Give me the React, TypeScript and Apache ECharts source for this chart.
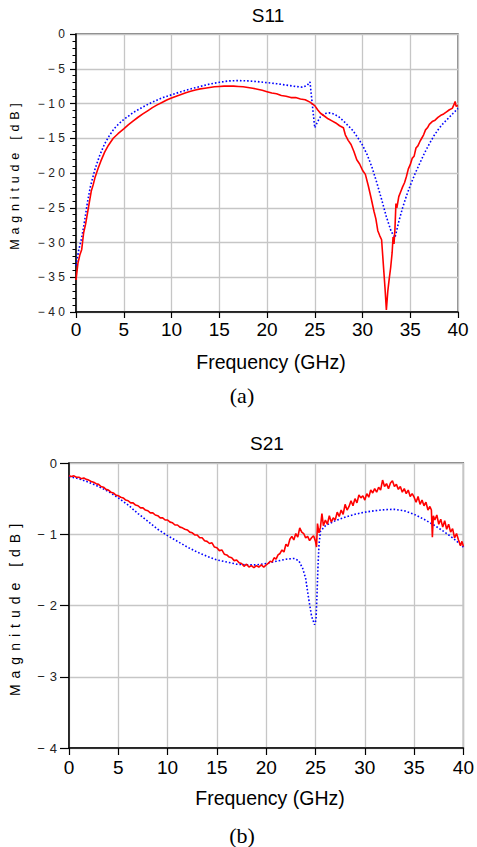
import React, { useEffect, useRef } from 'react';
import * as echarts from 'echarts';

// S11 measured (GHz, dB)
const s11Measured: [number, number][] = [
  [0, -35.4], [0.2, -33.0], [0.4, -31.8], [0.6, -31.0], [0.8, -28.6], [1.0, -27.4], [1.2, -25.8],
  [1.4, -24.2], [1.6, -22.6], [1.8, -21.7], [2.0, -20.6], [2.3, -19.4], [2.6, -18.3], [3.0, -17.0],
  [3.4, -16.0], [3.9, -15.0], [4.4, -14.35], [5.0, -13.65], [5.5, -13.05], [6.0, -12.5], [6.5, -11.98],
  [7.0, -11.5], [7.5, -11.05], [8.0, -10.6], [8.5, -10.2], [9.0, -9.85], [9.5, -9.5], [10.0, -9.2],
  [10.5, -8.95], [11.0, -8.7], [11.5, -8.45], [12.0, -8.25], [12.5, -8.05], [13.0, -7.9], [13.5, -7.8],
  [14.0, -7.7], [14.5, -7.6], [15.0, -7.55], [15.5, -7.5], [16.0, -7.5], [16.5, -7.5], [17.0, -7.55],
  [17.5, -7.6], [18.0, -7.7], [18.5, -7.8], [19.0, -7.95], [19.5, -8.1], [20.0, -8.3], [20.5, -8.5],
  [21.0, -8.6], [21.5, -8.85], [22.0, -8.95], [22.5, -9.15], [23.0, -9.15], [23.5, -9.35], [24.0, -9.45],
  [24.5, -9.8], [25.0, -10.3], [25.3, -10.9], [25.6, -11.4], [26.0, -11.8], [26.4, -12.2], [26.8, -12.5],
  [27.2, -12.8], [27.6, -13.2], [28.0, -13.5], [28.2, -14.5], [28.5, -15.3], [28.8, -15.9], [29.1, -16.9],
  [29.4, -18.1], [29.7, -18.7], [30.0, -19.6], [30.3, -20.2], [30.6, -21.8], [30.9, -23.6], [31.2, -25.5],
  [31.4, -26.6], [31.6, -28.3], [31.8, -29.0], [32.0, -29.6], [32.2, -33.5], [32.35, -36.4], [32.5, -39.7],
  [32.65, -37.0], [32.8, -35.2], [32.95, -33.6], [33.1, -31.5], [33.2, -29.2], [33.3, -30.2], [33.4, -28.0],
  [33.5, -24.4], [33.6, -25.0], [33.8, -23.4], [34.0, -22.7], [34.2, -22.0], [34.4, -21.4], [34.6, -20.5],
  [34.8, -19.4], [35.0, -18.8], [35.2, -17.9], [35.4, -17.6], [35.6, -16.4], [35.8, -16.1], [36.0, -15.5],
  [36.2, -15.0], [36.4, -14.5], [36.6, -13.8], [36.8, -13.5], [37.0, -13.0], [37.3, -12.6], [37.6, -12.4],
  [37.9, -12.0], [38.2, -11.7], [38.5, -11.5], [38.8, -11.2], [39.1, -10.9], [39.4, -10.7], [39.6, -10.1],
  [39.7, -9.7], [39.8, -10.4], [40.0, -10.3],
];

// S11 simulated (GHz, dB)
const s11Simulated: [number, number][] = [
  [0, -33.3], [0.3, -31.0], [0.6, -29.3], [0.9, -26.9], [1.2, -24.2], [1.5, -22.0], [2.0, -19.4],
  [2.5, -17.4], [3.0, -15.8], [3.5, -14.6], [4.0, -13.6], [4.5, -12.9], [5.0, -12.3], [6.0, -11.3],
  [7.0, -10.5], [8.0, -9.8], [9.0, -9.2], [10.0, -8.75], [11.0, -8.3], [12.0, -7.9], [13.0, -7.55],
  [14.0, -7.2], [15.0, -6.95], [16.0, -6.75], [17.0, -6.7], [18.0, -6.75], [19.0, -6.85], [20.0, -7.0],
  [21.0, -7.15], [22.0, -7.35], [23.0, -7.55], [23.7, -7.65], [24.2, -7.4], [24.5, -6.9], [24.75, -10.2],
  [25.0, -13.5], [25.3, -12.6], [25.6, -11.9], [26.0, -11.45], [26.5, -11.35], [27.0, -11.5], [27.5, -11.9],
  [28.0, -12.5], [28.5, -13.2], [29.0, -13.9], [29.5, -14.9], [30.0, -16.0], [30.5, -17.4], [31.0, -19.2],
  [31.5, -21.4], [32.0, -23.8], [32.5, -26.3], [33.0, -28.4], [33.4, -29.3], [33.8, -27.0], [34.2, -25.0],
  [34.6, -23.3], [35.0, -21.8], [35.5, -20.1], [36.0, -18.6], [36.5, -17.1], [37.0, -15.8], [37.5, -14.6],
  [38.0, -13.6], [38.5, -12.8], [39.0, -12.1], [39.5, -11.4], [40.0, -10.7],
];

// S21 measured (GHz, dB)
const s21Measured: [number, number][] = [
  [0, -0.18], [0.25, -0.19], [0.5, -0.18], [0.75, -0.2], [1, -0.2], [1.25, -0.22], [1.5, -0.21], [1.75, -0.23],
  [2, -0.24], [2.25, -0.26], [2.5, -0.27], [2.75, -0.29], [3, -0.3], [3.25, -0.33], [3.5, -0.34], [3.75, -0.37],
  [4, -0.38], [4.25, -0.41], [4.5, -0.42], [4.75, -0.45], [5, -0.46], [5.25, -0.48], [5.5, -0.49], [5.75, -0.52],
  [6, -0.53], [6.25, -0.56], [6.5, -0.56], [6.75, -0.59], [7, -0.6], [7.25, -0.63], [7.5, -0.63], [7.75, -0.66],
  [8, -0.67], [8.25, -0.7], [8.5, -0.7], [8.75, -0.73], [9, -0.74], [9.25, -0.77], [9.5, -0.77], [9.75, -0.8],
  [10, -0.8], [10.25, -0.83], [10.5, -0.84], [10.75, -0.87], [11, -0.87], [11.25, -0.9], [11.5, -0.91],
  [11.75, -0.93], [12, -0.94], [12.25, -0.97], [12.5, -0.98], [12.75, -1.01], [13, -1.01], [13.25, -1.05],
  [13.5, -1.05], [13.75, -1.09], [14, -1.1], [14.25, -1.13], [14.5, -1.12], [14.75, -1.18], [15, -1.19],
  [15.25, -1.23], [15.5, -1.22], [15.75, -1.28], [16, -1.29], [16.25, -1.32], [16.5, -1.33], [16.75, -1.37],
  [17, -1.36], [17.25, -1.4], [17.5, -1.41], [17.75, -1.45], [18, -1.42], [18.25, -1.46], [18.5, -1.44],
  [18.75, -1.47], [19, -1.44], [19.25, -1.46], [19.5, -1.43], [19.75, -1.46], [20, -1.43],
  [20.2, -1.41], [20.4, -1.38], [20.6, -1.39], [20.8, -1.33], [21.0, -1.35], [21.2, -1.29], [21.4, -1.27],
  [21.6, -1.22], [21.8, -1.25], [22.0, -1.14], [22.2, -1.17], [22.4, -1.07], [22.6, -1.03], [22.8, -1.08],
  [23.0, -0.99], [23.2, -1.04], [23.4, -0.91], [23.6, -0.97], [23.8, -0.99], [24.0, -1.05], [24.2, -1.03],
  [24.4, -1.09], [24.6, -1.05], [24.8, -1.02], [25.0, -1.1], [25.1, -1.18], [25.2, -0.85], [25.35, -0.98],
  [25.5, -0.9], [25.65, -0.71], [25.8, -0.88], [26.0, -0.8], [26.2, -0.86], [26.4, -0.74], [26.6, -0.83],
  [26.8, -0.77], [27.0, -0.8], [27.2, -0.69], [27.4, -0.75], [27.6, -0.66], [27.8, -0.72], [28.0, -0.58],
  [28.2, -0.66], [28.4, -0.61], [28.6, -0.53], [28.8, -0.6], [29.0, -0.5], [29.2, -0.56], [29.4, -0.45],
  [29.6, -0.49], [29.8, -0.46], [30.0, -0.52], [30.2, -0.43], [30.4, -0.48], [30.6, -0.38], [30.8, -0.42],
  [31.0, -0.36], [31.2, -0.41], [31.4, -0.34], [31.6, -0.38], [31.8, -0.24], [32.0, -0.33], [32.2, -0.29],
  [32.4, -0.36], [32.6, -0.28], [32.8, -0.25], [33.0, -0.33], [33.2, -0.3], [33.4, -0.37], [33.6, -0.33],
  [33.8, -0.41], [34.0, -0.36], [34.2, -0.43], [34.4, -0.38], [34.6, -0.47], [34.8, -0.43], [35.0, -0.48],
  [35.2, -0.55], [35.4, -0.47], [35.6, -0.58], [35.8, -0.52], [36.0, -0.6], [36.2, -0.55], [36.4, -0.66],
  [36.6, -0.61], [36.75, -0.66], [36.85, -1.04], [36.95, -0.74], [37.1, -0.8], [37.3, -0.73], [37.5, -0.86],
  [37.7, -0.79], [37.9, -0.9], [38.1, -0.81], [38.3, -0.93], [38.5, -0.86], [38.7, -0.97], [38.9, -0.92],
  [39.1, -1.05], [39.3, -0.99], [39.5, -1.08], [39.7, -1.16], [39.85, -1.1], [40, -1.17],
];

// S21 simulated (GHz, dB)
const s21Simulated: [number, number][] = [
  [0, -0.19], [1, -0.22], [2, -0.27], [3, -0.33], [4, -0.4], [5, -0.49], [6, -0.59], [7, -0.71], [8, -0.82],
  [9, -0.93], [10, -1.02], [11, -1.1], [12, -1.18], [13, -1.25], [14, -1.31], [15, -1.36], [16, -1.39],
  [17, -1.42], [18, -1.43], [19, -1.43], [20, -1.41], [21, -1.38], [22, -1.35], [22.8, -1.34], [23.3, -1.37],
  [23.7, -1.48], [24.0, -1.62], [24.3, -1.9], [24.6, -2.15], [24.9, -2.27], [25.05, -2.2], [25.15, -1.85],
  [25.25, -1.45], [25.35, -1.15], [25.5, -0.96], [26, -0.88], [27, -0.81], [28, -0.76], [29, -0.72],
  [30, -0.69], [31, -0.67], [32, -0.655], [33, -0.65], [34, -0.67], [35, -0.72], [36, -0.79], [37, -0.87],
  [38, -0.96], [39, -1.06], [40, -1.18],
];

const FONT = 'Liberation Sans, Arial, sans-serif';
const SERIF = 'Liberation Serif, Times New Roman, serif';

export default function App() {
  const ref = useRef<HTMLDivElement>(null);

  useEffect(() => {
    const el = ref.current!;
    const chart = echarts.init(el, null, { renderer: 'svg' });
    const fmtY = (v: number) => (v < 0 ? '\u2212' + Math.abs(v) : String(v));

    const xAxis = (grid: number, fontSize: number, margin: number, tickLen: number) => ({
      type: 'value', gridIndex: grid, min: 0, max: 40, interval: 5,
      axisLine: { show: true, onZero: false, lineStyle: { color: '#000', width: 1.5 } },
      axisTick: { show: true, inside: false, length: tickLen, lineStyle: { color: '#000', width: 1.2 } },
      axisLabel: { color: '#000', fontSize, fontFamily: FONT, margin },
      splitLine: { show: true, lineStyle: { color: '#c6c6c6', width: 1.3 } },
    });

    const yAxis = (grid: number, min: number, interval: number, fontSize: number, margin: number, tickLen: number, minor: boolean) => ({
      type: 'value', gridIndex: grid, min, max: 0, interval,
      axisLine: { show: true, onZero: false, lineStyle: { color: '#000', width: 1.5 } },
      axisTick: { show: true, inside: false, length: tickLen, lineStyle: { color: '#000', width: 1.2 } },
      minorTick: { show: minor, splitNumber: 5, length: 3.5, lineStyle: { color: '#000', width: 1 } },
      axisLabel: { color: '#222', fontSize, fontFamily: FONT, margin, formatter: fmtY },
      splitLine: { show: true, lineStyle: { color: '#c6c6c6', width: 1.3 } },
    });

    const txt = (text: string, x: number, y: number, fontSize: number, family: string, rotation = 0) => ({
      type: 'text', x, y, rotation, silent: true,
      style: {
        text, fill: '#000', fontSize, fontFamily: family,
        align: 'center', verticalAlign: 'middle', textAlign: 'center', textVerticalAlign: 'middle',
      },
    });

    chart.setOption({
      animation: false,
      backgroundColor: '#fff',
      grid: [
        { left: 76, top: 34, width: 382, height: 278, show: true, borderColor: '#555', borderWidth: 1.3, backgroundColor: 'transparent' },
        { left: 69, top: 463, width: 395, height: 285, show: true, borderColor: '#555', borderWidth: 1.3, backgroundColor: 'transparent' },
      ],
      xAxis: [xAxis(0, 19, 8, 6), xAxis(1, 19, 10, 7)],
      yAxis: [yAxis(0, -40, 5, 12, 7.5, 6, true), yAxis(1, -4, 1, 13, 7, 9, false)],
      graphic: [
        txt('S11', 268, 15, 19, FONT),
        txt('Magnitude [dB]', 15, 174, 12.5, FONT, Math.PI / 2),
        txt('Frequency (GHz)', 271, 362, 19.5, FONT),
        txt('(a)', 242, 395, 22, SERIF),
        txt('S21', 267, 443, 19, FONT),
        txt('Magnitude [dB]', 15, 607, 14, FONT, Math.PI / 2),
        txt('Frequency (GHz)', 270, 798, 19.5, FONT),
        txt('(b)', 242, 835, 22, SERIF),
      ],
      series: [
        { name: 'S11 simulated', type: 'line', xAxisIndex: 0, yAxisIndex: 0, data: s11Simulated, showSymbol: false,
          lineStyle: { color: '#0000ff', width: 1.6, type: [1.6, 2] } },
        { name: 'S11 measured', type: 'line', xAxisIndex: 0, yAxisIndex: 0, data: s11Measured, showSymbol: false,
          lineStyle: { color: '#ff0000', width: 1.6 } },
        { name: 'S21 simulated', type: 'line', xAxisIndex: 1, yAxisIndex: 1, data: s21Simulated, showSymbol: false,
          lineStyle: { color: '#0000ff', width: 1.6, type: [1.6, 2] } },
        { name: 'S21 measured', type: 'line', xAxisIndex: 1, yAxisIndex: 1, data: s21Measured, showSymbol: false,
          lineStyle: { color: '#ff0000', width: 1.6 } },
      ],
    });

    const applySpacing = () => {
      const rootRect = el.getBoundingClientRect();
      el.querySelectorAll('text').forEach((t) => {
        const s = (t.textContent || '').trim();
        const r = t.getBoundingClientRect();
        const top = r.top - rootRect.top;
        const isTop = top < 423;
        if (s === 'Magnitude [dB]') {
          (t as SVGTextElement).style.letterSpacing = isTop ? '4.8px' : '6px';
        } else if (s.startsWith('\u2212') || (s === '0' && r.right - rootRect.left < 71)) {
          (t as SVGTextElement).style.letterSpacing = isTop ? '3.5px' : '5px';
        }
      });
    };
    applySpacing();
    const timer = setTimeout(applySpacing, 30);

    return () => {
      clearTimeout(timer);
      chart.dispose();
    };
  }, []);

  return <div ref={ref} style={{ position: 'fixed', left: 0, top: 0, width: 477, height: 847, background: '#fff' }} />;
}
